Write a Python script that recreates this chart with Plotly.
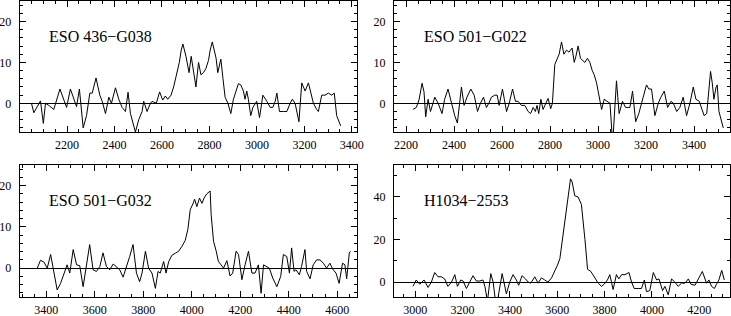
import plotly.graph_objects as go

# ---------------- data ----------------
names = ["ESO 436\u2212G038", "ESO 501\u2212G022", "ESO 501\u2212G032", "H1034\u22122553"]

x1 = [2050, 2060, 2088, 2100, 2109, 2123, 2144, 2170, 2198, 2214, 2240, 2252, 2268, 2282, 2296,
      2306, 2322, 2338, 2348, 2362, 2376, 2387, 2404, 2418, 2432, 2446, 2457, 2467, 2488, 2502,
      2516, 2523, 2537, 2551, 2558, 2576, 2590, 2603, 2614, 2624, 2638, 2649, 2659, 2673, 2681,
      2688, 2701, 2714, 2723, 2733, 2743, 2754, 2764, 2775, 2785, 2796, 2803, 2812, 2820, 2828,
      2835, 2848, 2857, 2866, 2878, 2890, 2901, 2915, 2922, 2932, 2943, 2950, 2957, 2964, 2974,
      2983, 2992, 2999, 3011, 3025, 3042, 3056, 3067, 3077, 3084, 3095, 3112, 3126, 3140, 3149,
      3161, 3177, 3189, 3203, 3217, 3238, 3252, 3259, 3273, 3287, 3301, 3315, 3326, 3336, 3353]
y1 = [0, -2.3, 0.6, -4.9, 0, -0.5, -1.5, 3.5, -1, 3.5, -0.8, 3.5, -6, -3, 2.5,
      2.5, 6.2, 2, 0.5, -2.5, 1.5, 0, 3.8, 1, -1, -2, 2.7, -2.5, -7, -4,
      -2, 0.5, -2, 0, 0.5, 0, 2.8, 0.8, 1.8, 1, 2, 4, 6.5, 10, 13,
      14.5, 11.5, 7.5, 11.5, 8, 4, 10, 7, 7.5, 8.5, 10.5, 13, 15, 13, 11,
      7.5, 10.8, 6, 1.5, 0, -2.5, 1, 4, 4.8, 4.5, 3, 1, 3, 1, -3,
      -1, 0, 0.5, -3.5, 2, 0.5, -1, -1, 0.5, 2.5, -2, -2, -2, 0, 1,
      0, -4.5, 5, 3, 5, 0, -1.5, -2, 2, 2, 2.5, 2, 2.5, -3, -5.5]

x2 = [2229, 2243, 2254, 2267, 2275, 2282, 2292, 2302, 2320, 2334, 2350, 2361, 2375, 2389, 2403,
      2414, 2431, 2442, 2454, 2470, 2484, 2498, 2510, 2523, 2535, 2545, 2556, 2570, 2580, 2588,
      2602, 2619, 2630, 2644, 2656, 2667, 2681, 2695, 2709, 2719, 2730, 2739, 2746, 2753, 2762,
      2771, 2783, 2792, 2803, 2810, 2820, 2831, 2838, 2848, 2858, 2869, 2879, 2892, 2901, 2908,
      2917, 2927, 2938, 2945, 2956, 2966, 2976, 2984, 2994, 3005, 3015, 3026, 3040, 3050, 3059,
      3063, 3077, 3088, 3102, 3115, 3126, 3133, 3144, 3157, 3170, 3182, 3195, 3202, 3212, 3223,
      3237, 3251, 3262, 3276, 3290, 3304, 3314, 3328, 3341, 3355, 3369, 3383, 3397, 3408, 3422,
      3432, 3442, 3453, 3460, 3469, 3476, 3483, 3492, 3497, 3504, 3512, 3522]
y2 = [-1.5, -1, 0.8, 4.9, 2.8, -3.3, 1, -2, 1.5, 0, -2.5, 1, 3.5, 0, -3,
      -4.8, 4, -0.5, 1.5, 3.5, 2, -2, 0, 1.5, -1, 0, 1.5, 2, 2, -0.5,
      3.5, -2, 0, 3.5, 0.5, 0.5, -0.5, -0.5, -2, -2.5, -1, -2, -0.5, -2.5, 1,
      -1.5, 0, 1.2, -1.3, 0, 9.5, 11, 12, 15, 12, 13, 12.5, 13.5, 10, 11.5,
      14, 11, 10.5, 10, 11, 10, 8, 7, 5, 2, -1.5, 1, 0.5, 0, -8,
      -8, 5.5, -2.5, 0.5, -1, -1, -1, 3, -4.5, -2.5, 0, 3, 4.5, 3.5, 3.5,
      -3, 0, 1.5, 3, -1, 0.5, 0, -2, -1, 1.5, -3, 0, 4, 1, 0.5,
      -1, -3, -2.5, 2, 7.8, 5, 1, 4, 4.5, -2, -4, -6]

x3 = [3363, 3376, 3390, 3404, 3418, 3429, 3445, 3459, 3472, 3486, 3497, 3511, 3525, 3538, 3552,
      3566, 3579, 3593, 3607, 3621, 3634, 3648, 3662, 3676, 3689, 3703, 3717, 3730, 3744, 3758,
      3772, 3785, 3795, 3809, 3822, 3836, 3850, 3861, 3870, 3884, 3894, 3905, 3918, 3932, 3946,
      3960, 3973, 3984, 3994, 4005, 4012, 4021, 4032, 4042, 4051, 4062, 4076, 4080, 4090, 4101,
      4110, 4121, 4131, 4145, 4158, 4169, 4183, 4193, 4207, 4220, 4234, 4248, 4261, 4275, 4286,
      4296, 4309, 4320, 4334, 4351, 4367, 4378, 4392, 4403, 4412, 4422, 4430, 4444, 4453, 4467,
      4474, 4488, 4501, 4515, 4529, 4543, 4556, 4570, 4581, 4595, 4608, 4622, 4632, 4639, 4650,
      4655]
y3 = [0, 1.9, 1.5, 0, 3.3, 0, -5.3, -3.7, -1.6, 0.8, -1.2, 4.5, 0.8, 0.6, -4.5,
      0.8, 5.7, -0.4, -0.8, 0.4, 3.7, 0.4, -0.4, 1, 0.4, -0.4, -2.2, 0, 2.8, 5.7,
      -1.2, -3.3, -1.2, 4.1, 0, -1.2, -4.9, -0.8, -1.2, 1.6, -1.2, 1.6, 3.1, 3.6, 4.1,
      5.3, 6.7, 9.4, 14.2, 15.6, 16.7, 14.9, 17, 15.7, 17, 18, 18.7, 13, 6.5, 4.1,
      1.6, 0.8, 0, 1.8, -1.9, -1.2, 4.1, 3.3, -2.8, 0.8, 4.1, -1.2, -1.2, 0.8, -6.1,
      0.8, 0.4, 0, -2.4, -4.5, -2, 3.3, 2.8, -1.2, 4.9, -0.8, -0.4, -1.6, 0.4, 4.5,
      -0.8, -2.6, 0.8, 2, 2, 1.2, 0, 1.2, -0.2, -1.2, -3.7, 1.2, 0.8, -2.6, 3.7,
      4.1]

x4 = [2990, 3004, 3019, 3037, 3054, 3068, 3082, 3096, 3110, 3124, 3138, 3153, 3167, 3178, 3192,
      3202, 3216, 3230, 3244, 3258, 3272, 3286, 3294, 3305, 3319, 3329, 3339, 3347, 3367, 3385,
      3399, 3413, 3427, 3437, 3451, 3466, 3477, 3488, 3505, 3519, 3533, 3547, 3561, 3576, 3590,
      3601, 3611, 3622, 3636, 3646, 3656, 3663, 3674, 3688, 3702, 3717, 3728, 3742, 3759, 3773,
      3787, 3798, 3812, 3822, 3836, 3850, 3860, 3872, 3886, 3903, 3914, 3925, 3942, 3956, 3968,
      3977, 3991, 4006, 4020, 4030, 4045, 4055, 4069, 4083, 4097, 4111, 4125, 4140, 4154, 4165,
      4182, 4196, 4213, 4231, 4241, 4252, 4264, 4273, 4283, 4295, 4306]
y4 = [-2, 1, -1, 1, -2.5, 0, 4.5, 2.5, 2.5, 1.5, -2, 0, 3.5, -2, 1,
      0.5, -3, 0, 3, 0.5, 0.5, 1, -2, -9, 4, 0, -9, -9, 4, -5.5,
      0, 3.5, 1, -1.5, 3, 1.5, 0, -0.5, 2.5, -0.5, 2, 1, 0, 2, 5,
      8, 11, 20, 33, 42, 48.5, 47, 40.5, 40, 36.5, 20, 6, 5, 2, -0.5,
      -2, -1, 1, 3.5, -3.5, 3.5, 1.5, 3.5, 3.5, 4.5, 0, -3, -3, -3, 1,
      -4.5, -4, 4.5, 1, 1.5, -4, -2, -6, 1.5, 0, -2, -0.5, -0.5, 1.5, -1,
      -1.5, 1.5, 5, -0.5, 1, -2, -3, -1, 1, 5.5, 1]

xs = [x1, x2, x3, x4]
ys = [y1, y2, y3, y4]

x_ticks = [[2200, 2400, 2600, 2800, 3000, 3200, 3400],
           [2200, 2400, 2600, 2800, 3000, 3200, 3400],
           [3400, 3600, 3800, 4000, 4200, 4400, 4600],
           [3000, 3200, 3400, 3600, 3800, 4000, 4200]]
y_ticks = [[0, 10, 20], [0, 10, 20], [0, 10, 20], [0, 20, 40]]

x_ranges = [[2000, 3420], [2150, 3550], [3290, 4680], [2910, 4330]]
y_ranges = [[-7, 25], [-7, 25], [-7, 25], [-7, 55]]
y_minor = [2, 2, 2, 10]

# ---------------- layout ----------------
W, H = 731, 316
x_dom = [[19.6 / W, 356.6 / W], [394 / W, 730 / W], [19.6 / W, 356.6 / W], [394 / W, 730 / W]]
y_dom = [[(H - 132) / H, (H - 1) / H], [(H - 132) / H, (H - 1) / H],
         [(H - 297) / H, (H - 165) / H], [(H - 297) / H, (H - 165) / H]]
label_x = [47 - 19.6, 422 - 394, 47 - 19.6, 422 - 394]

fig = go.Figure()
font_tick = dict(family="Liberation Serif", size=12, color="black")

for i in range(4):
    sfx = "" if i == 0 else str(i + 1)
    fig.add_trace(go.Scatter(x=xs[i], y=ys[i], mode="lines",
                             line=dict(color="black", width=1),
                             xaxis="x" + sfx, yaxis="y" + sfx, showlegend=False,
                             cliponaxis=True, hoverinfo="skip"))
    fig.layout["xaxis" + sfx] = dict(
        domain=x_dom[i], range=x_ranges[i], anchor="y" + sfx, automargin=False,
        showgrid=False, zeroline=False, showline=True, linecolor="black", linewidth=1,
        mirror="allticks", ticks="inside", ticklen=6, tickwidth=1, tickcolor="black",
        tickvals=x_ticks[i], tickfont=font_tick, ticklabelstandoff=2,
        minor=dict(dtick=50, tick0=0, ticks="inside", ticklen=3, tickcolor="black", showgrid=False),
    )
    fig.layout["yaxis" + sfx] = dict(
        domain=y_dom[i], range=y_ranges[i], anchor="x" + sfx, automargin=False,
        showgrid=False, zeroline=True, zerolinecolor="black", zerolinewidth=1,
        showline=True, linecolor="black", linewidth=1,
        mirror="allticks", ticks="inside", ticklen=6, tickwidth=1, tickcolor="black",
        tickvals=y_ticks[i], tickfont=font_tick, ticklabelstandoff=5,
        minor=dict(dtick=y_minor[i], tick0=0, ticks="inside", ticklen=3, tickcolor="black", showgrid=False),
    )
    fig.add_annotation(text=names[i], xref="x" + sfx + " domain", yref="y" + sfx + " domain",
                       x=label_x[i] / (x_dom[i][1] - x_dom[i][0]) / W,
                       y=0.73, xanchor="left", yanchor="middle", showarrow=False,
                       font=dict(family="Liberation Serif", size=16, color="black"))

fig.update_layout(width=W, height=H, margin=dict(l=0, r=0, t=0, b=0, autoexpand=False),
                  paper_bgcolor="white", plot_bgcolor="white")

fig.write_html("out.html", config={"displayModeBar": False},
               post_script="document.body.style.margin='0';document.body.style.overflow='hidden';")
